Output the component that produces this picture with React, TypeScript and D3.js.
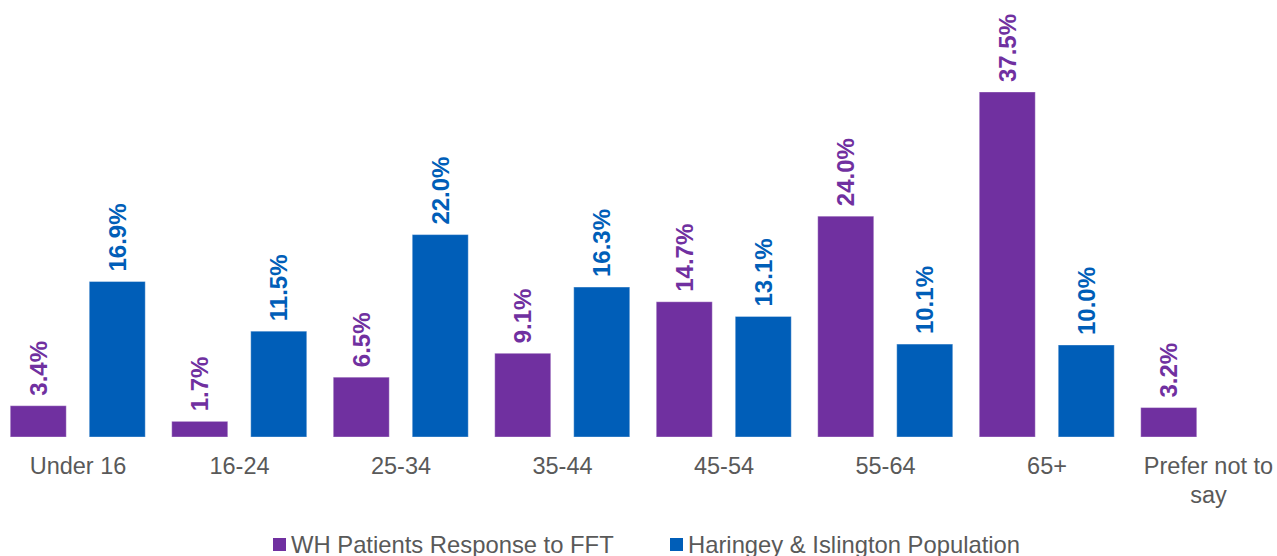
import React from "react";
import * as d3 from "d3";

const categories = ["Under 16", "16-24", "25-34", "35-44", "45-54", "55-64", "65+", "Prefer not to say"];
const seriesNames = ["WH Patients Response to FFT", "Haringey & Islington Population"];
const whValues: (number | null)[] = [3.4, 1.7, 6.5, 9.1, 14.7, 24.0, 37.5, 3.2];
const popValues: (number | null)[] = [16.9, 11.5, 22.0, 16.3, 13.1, 10.1, 10.0, null];
const seriesColors = ["#7030A0", "#005EB8"];

const W = 1277;
const H = 556;
const FONT = "Arial, 'Liberation Sans', Helvetica, sans-serif";
const FS = 23.5;

export default function App() {
  const x = d3.scaleBand<string>().domain(categories).range([-2.75, 1289.25]).paddingInner(0);
  const inner = d3.scaleBand<string>().domain(seriesNames).range([13, 148]).paddingInner(0.291);
  const y = d3.scaleLinear().domain([0, 40]).range([437, 437 - 9.2 * 40]);

  const series = [whValues, popValues];

  const labelLines = (c: string) => (c === "Prefer not to say" ? ["Prefer not to", "say"] : [c]);

  return (
    <svg width={W} height={H} style={{ display: "block", position: "absolute", left: 0, top: 0 }} fontFamily={FONT}>
      <rect width={W} height={H} fill="#fff" />
      {categories.map((c, i) => (
        <g key={c} transform={`translate(${x(c)},0)`}>
          {series.map((vals, s) => {
            const v = vals[i];
            if (v == null) return null;
            const bx = inner(seriesNames[s])!;
            const bw = inner.bandwidth();
            const top = y(v);
            const cx = bx + bw / 2;
            return (
              <g key={s}>
                <rect
                  x={bx}
                  y={top}
                  width={bw}
                  height={y(0) - top}
                  fill={seriesColors[s]}
                  stroke="#ffffff"
                  strokeOpacity={0.35}
                  strokeWidth={1}
                />
                <text
                  transform={`translate(${cx + FS * 0.36},${top - 10}) rotate(-90)`}
                  fontSize={24}
                  fontWeight="bold"
                  fill={seriesColors[s]}
                  textAnchor="start"
                >
                  {v.toFixed(1)}%
                </text>
              </g>
            );
          })}
          {labelLines(c).map((line, k) => (
            <text
              key={k}
              x={x.bandwidth() / 2}
              y={474 + k * 29}
              fontSize={FS}
              fill="#595959"
              textAnchor="middle"
            >
              {line}
            </text>
          ))}
        </g>
      ))}
      {/* legend */}
      {[
        { name: seriesNames[0], sx: 273, color: seriesColors[0] },
        { name: seriesNames[1], sx: 670, color: seriesColors[1] },
      ].map((d) => (
        <g key={d.name}>
          <rect x={d.sx} y={538} width={13} height={13} fill={d.color} />
          <text x={d.sx + 18} y={553} fontSize={23.8} fill="#595959">
            {d.name}
          </text>
        </g>
      ))}
    </svg>
  );
}
